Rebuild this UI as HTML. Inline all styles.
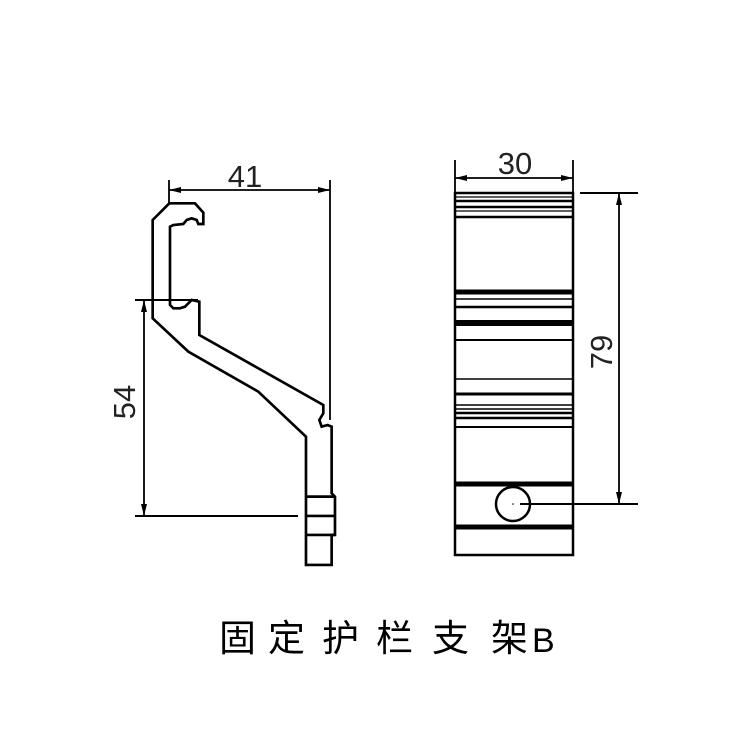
<!DOCTYPE html>
<html><head><meta charset="utf-8"><style>
html,body{margin:0;padding:0;background:#fff;width:750px;height:750px;overflow:hidden}
svg{display:block}
</style></head><body>
<svg width="750" height="750" viewBox="0 0 750 750" xmlns="http://www.w3.org/2000/svg">
<defs>
<marker id="a" markerWidth="12" markerHeight="6" refX="12" refY="3" orient="auto-start-reverse" markerUnits="userSpaceOnUse">
<path d="M0,0 L12,3 L0,6 Z" fill="#000"/></marker>
</defs>
<g fill="none" stroke="#000" stroke-width="2.5" stroke-linejoin="miter">
<g transform="translate(130,160) scale(0.3333)" stroke-width="8">
<path d="M118,130 L68,180 L68,475 L175,575 L385,695 L528,830 L528,1215 L605,1215 L605,1125 L615,1125 L615,1010 L605,1000 L605,800 L593,795 L575,800 L568,780 L580,760 L580,735 L208,525 L208,425 L185,420 L165,440 L150,445 L130,445 L120,435 L120,200 L130,195 L160,192 L170,180 L185,175 L200,180 L205,192 L220,192 L220,158 L195,130 Z"/>
<path d="M528,1010 L615,1010 M528,1068 L615,1068 M528,1125 L615,1125"/>
</g>
<line x1="169" y1="180" x2="169" y2="205" stroke-width="1.8"/>
<line x1="330" y1="180" x2="330" y2="420" stroke-width="1.8"/>
<line x1="169" y1="190" x2="330" y2="190" stroke-width="1.8" marker-start="url(#a)" marker-end="url(#a)"/>
<line x1="135" y1="300" x2="198" y2="300" stroke-width="2"/>
<line x1="135" y1="516" x2="298" y2="516" stroke-width="2"/>
<line x1="144" y1="300" x2="144" y2="516" stroke-width="1.8" marker-start="url(#a)" marker-end="url(#a)"/>
<rect x="455" y="193" width="118" height="362"/>
<line x1="455" y1="160" x2="455" y2="193" stroke-width="1.8"/>
<line x1="573" y1="160" x2="573" y2="193" stroke-width="1.8"/>
<line x1="455" y1="178" x2="573" y2="178" stroke-width="1.8" marker-start="url(#a)" marker-end="url(#a)"/>
<line x1="580" y1="193" x2="638" y2="193" stroke-width="2"/>
<line x1="520" y1="504" x2="638" y2="504" stroke-width="2"/>
<line x1="619" y1="193" x2="619" y2="504" stroke-width="1.8" marker-start="url(#a)" marker-end="url(#a)"/>
<circle cx="513" cy="504" r="17"/>
</g>
<g stroke="#000">
<line x1="455" x2="573" y1="197" y2="197" stroke-width="1.2"/>
<line x1="455" x2="573" y1="201" y2="201" stroke-width="2.5"/>
<line x1="455" x2="573" y1="207" y2="207" stroke-width="2.5"/>
<line x1="455" x2="573" y1="211" y2="211" stroke-width="1.2"/>
<line x1="455" x2="573" y1="217" y2="217" stroke-width="2.5"/>
<line x1="455" x2="573" y1="292" y2="292" stroke-width="5"/>
<line x1="455" x2="573" y1="299" y2="299" stroke-width="1.5"/>
<line x1="455" x2="573" y1="307" y2="307" stroke-width="2.5"/>
<line x1="455" x2="573" y1="323" y2="323" stroke-width="6"/>
<line x1="455" x2="573" y1="340" y2="340" stroke-width="2"/>
<line x1="455" x2="573" y1="379" y2="379" stroke-width="1.5"/>
<line x1="455" x2="573" y1="394" y2="394" stroke-width="3"/>
<line x1="455" x2="573" y1="405" y2="405" stroke-width="1.5"/>
<line x1="455" x2="573" y1="409" y2="409" stroke-width="1.5"/>
<line x1="455" x2="573" y1="413" y2="413" stroke-width="2.5"/>
<line x1="455" x2="573" y1="418" y2="418" stroke-width="2.5"/>
<line x1="455" x2="573" y1="427" y2="427" stroke-width="2"/>
<line x1="455" x2="573" y1="484" y2="484" stroke-width="5"/>
<line x1="455" x2="573" y1="527" y2="527" stroke-width="5"/>
</g>
<circle cx="513" cy="504" r="0.8" fill="#000"/>
<g font-family="Liberation Sans, DejaVu Sans, sans-serif" font-size="31" fill="#222">
<text x="245" y="187" text-anchor="middle">41</text>
<text x="515" y="174" text-anchor="middle">30</text>
<text transform="translate(135,402) rotate(-90)" text-anchor="middle">54</text>
<text transform="translate(612,352) rotate(-90)" text-anchor="middle">79</text>
</g>
<g font-family="Liberation Sans, Noto Sans CJK SC, sans-serif" font-size="37" fill="#000">
<text x="219" y="651">固</text>
<text x="268" y="651">定</text>
<text x="322" y="651">护</text>
<text x="376" y="651">栏</text>
<text x="432" y="651">支</text>
<text x="491" y="651">架</text>
<text x="532" y="652" font-size="34">B</text>
</g>
</svg>
</body></html>
